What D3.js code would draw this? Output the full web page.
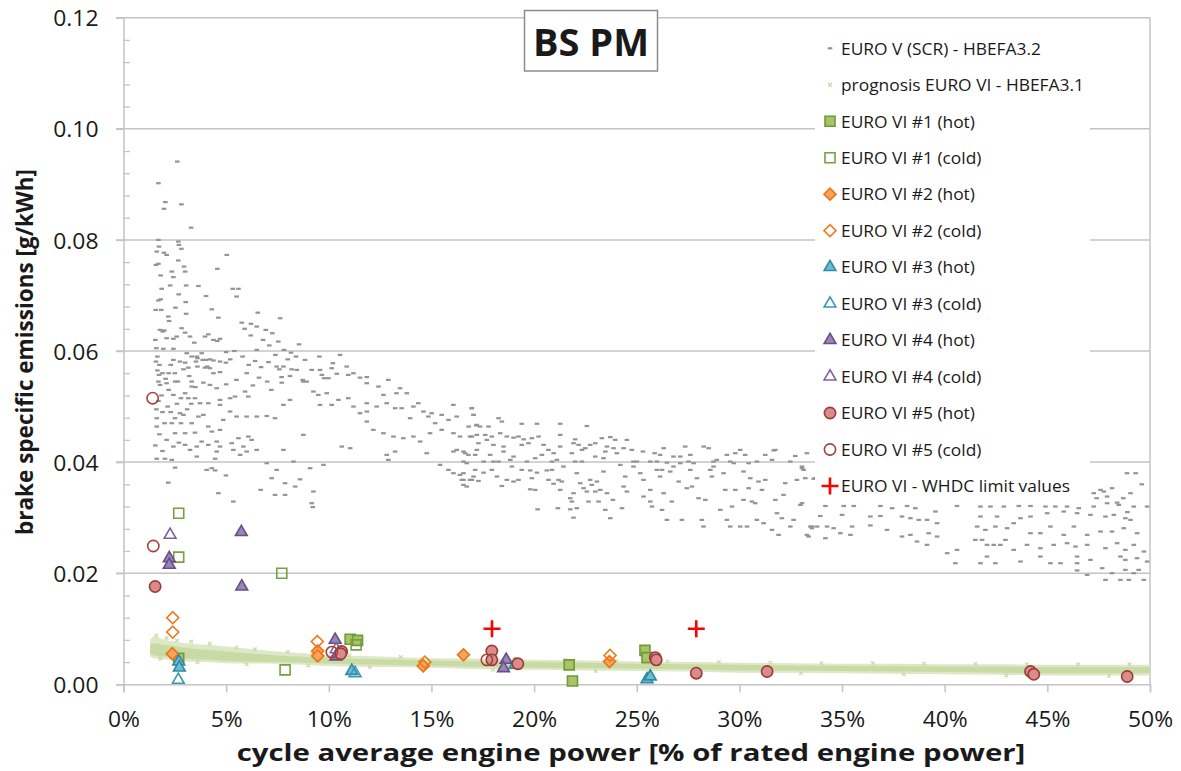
<!DOCTYPE html>
<html><head><meta charset="utf-8">
<script src="https://cdn.jsdelivr.net/npm/d3@7"></script>
<style>
body{margin:0;background:#fff}
svg{display:block}
text{font-family:'Open Sans',sans-serif;fill:#1a1a1a}
</style>
</head><body>
<svg id="chart" width="1181" height="771"></svg>
<script>
// ---------------- data ----------------
const xTicks = [0,5,10,15,20,25,30,35,40,45,50];
const yTicks = [0,0.02,0.04,0.06,0.08,0.10,0.12];
const yTickLabels = ["0.00","0.02","0.04","0.06","0.08","0.10","0.12"];

// EURO V (SCR) - HBEFA3.2 cloud  [% rated power, g/kWh]
const euro5Points = [
[2.62,.0941],[1.70,.0902],[2.04,.0868],[1.97,.0856],[2.82,.0864],[3.29,.0822],[1.70,.0800],[1.73,.0788],[1.62,.0779],[1.97,.0777],
[2.10,.0773],[2.67,.0797],[2.70,.0791],[2.82,.0784],[5.03,.0773],[1.58,.0755],[1.70,.0757],[2.67,.0763],[2.95,.0752],[3.00,.0743],
[4.57,.0748],[1.81,.0736],[2.35,.0743],[2.43,.0733],[1.86,.0712],[2.27,.0718],[3.05,.0718],[3.65,.0717],[5.32,.0712],[5.60,.0712],
[5.51,.0698],[2.69,.0702],[3.03,.0688],[4.02,.0699],[1.81,.0693],[1.70,.0691],[1.57,.0674],[1.84,.0674],[2.53,.0678],[4.30,.0675],
[2.18,.0662],[2.22,.0654],[3.05,.0667],[4.62,.0660],[6.54,.0669],[7.63,.0659],[5.76,.0651],[6.21,.0649],[6.49,.0644],[6.93,.0638],
[7.25,.0632],[1.78,.0638],[1.91,.0635],[1.99,.0637],[2.10,.0623],[2.43,.0622],[2.59,.0626],[2.83,.0641],[3.00,.0633],[3.24,.0626],
[3.45,.0615],[3.97,.0626],[4.13,.0630],[4.38,.0620],[4.57,.0618],[4.70,.0622],[7.54,.0617],[8.55,.0612],[6.49,.0602],[7.82,.0602],
[8.16,.0597],[1.58,.0581],[1.65,.0565],[1.73,.0557],[2.43,.0584],[2.75,.0581],[3.00,.0579],[3.16,.0570],[3.57,.0590],[3.81,.0596],
[4.02,.0584],[4.21,.0585],[4.38,.0583],[3.53,.0581],[3.60,.0572],[3.97,.0570],[4.21,.0569],[4.38,.0560],[4.70,.0562],[2.92,.0567],
[6.41,.0582],[7.06,.0580],[7.46,.0572],[7.59,.0567],[7.79,.0572],[8.19,.0567],[8.11,.0555],[8.44,.0566],[8.73,.0548],[8.92,.0545],
[9.17,.0566],[9.57,.0566],[9.66,.0557],[9.77,.0551],[9.98,.0551],[10.14,.0569],[10.39,.0559],[10.95,.0557],[11.52,.0552],[11.85,.0542],
[12.42,.0536],[10.55,.0593],[9.54,.0590],[8.84,.0584],[11.85,.0553],[12.90,.0548],[13.30,.0524],[10.20,.0578],[10.87,.0572],[11.20,.0560],
[9.90,.0524],[9.57,.0503],[10.14,.0503],[10.47,.0512],[10.95,.0515],[11.20,.0500],[11.52,.0488],[11.85,.0506],[11.85,.0491],[12.33,.0500],
[12.66,.0521],[12.82,.0506],[13.23,.0497],[13.47,.0533],[13.80,.0524],[13.55,.0497],[13.96,.0479],[14.12,.0500],[14.36,.0506],[14.61,.0491],
[14.85,.0482],[15.01,.0488],[15.18,.0470],[15.50,.0485],[15.83,.0476],[16.07,.0503],[16.23,.0482],[16.96,.0497],[17.05,.0485],[17.21,.0467],
[11.85,.0473],[12.17,.0458],[12.66,.0452],[13.15,.0446],[13.63,.0443],[14.12,.0446],[14.45,.0437],[14.93,.0452],[15.50,.0458],[16.07,.0452],
[16.39,.0446],[16.88,.0446],[16.07,.0419],[16.23,.0422],[16.56,.0419],[16.80,.0413],[17.21,.0422],[14.77,.0416],[15.42,.0395],[15.83,.0386],
[16.07,.0380],[16.39,.0377],[16.56,.0368],[16.88,.0368],[16.72,.0356],[17.05,.0374],[12.82,.0413],[12.90,.0404],[13.23,.0419],[11.04,.0425],
[10.63,.0428],[9.74,.0395],
[1.94,.0604],[2.43,.0604],[3.08,.0596],[3.32,.0590],[3.60,.0587],[3.86,.0584],[4.08,.0572],[4.70,.0581],[4.99,.0579],
[5.90,.0640],[6.20,.0628],[6.80,.0620],[7.10,.0610],[5.40,.0600],[5.80,.0590],[6.10,.0575],[6.70,.0571],[5.20,.0585],[5.00,.0598],
[7.40,.0593],[8.00,.0585],[8.40,.0590],[6.00,.0560],[6.60,.0552],[7.00,.0545],[7.70,.0553],[5.50,.0548],[5.00,.0540],[6.30,.0538],[7.20,.0530],
[1.55,.0620],[1.60,.0605],[1.65,.0590],[1.75,.0575],[1.90,.0560],[2.05,.0550],[2.20,.0560],[2.30,.0575],[1.85,.0520],[1.70,.0510],
[1.60,.0495],[1.90,.0490],[2.15,.0500],[2.30,.0490],[2.60,.0505],[2.80,.0515],[2.00,.0470],[1.75,.0450],[2.10,.0440],[2.70,.0435],
[1.55,.0430],[1.90,.0420],[2.80,.0470],[3.10,.0495],[3.30,.0505],[3.50,.0535],[3.20,.0555],[2.50,.0560],[2.65,.0545],[2.20,.0530],
[1.70,.0545],[1.78,.0539],[2.10,.0542],[2.51,.0545],[3.32,.0545],[3.89,.0543],[4.21,.0539],[4.54,.0533],[3.32,.0536],[2.43,.0521],
[3.00,.0524],[3.16,.0515],[3.48,.0515],[3.73,.0506],[4.13,.0506],[4.70,.0512],[4.70,.0503],[5.19,.0515],[5.43,.0518],[5.92,.0527],
[6.08,.0518],[1.62,.0479],[2.35,.0470],[2.51,.0479],[2.75,.0488],[2.92,.0485],[3.32,.0470],[3.65,.0482],[4.13,.0464],[3.89,.0485],
[4.70,.0458],[4.86,.0476],[5.19,.0491],[5.51,.0482],[6.00,.0482],[6.49,.0482],[6.98,.0483],[7.38,.0479],[1.62,.0464],[2.51,.0452],
[3.00,.0452],[3.48,.0453],[3.81,.0437],[4.30,.0455],[4.54,.0437],[4.70,.0428],[5.27,.0434],[5.60,.0443],[6.08,.0446],[6.24,.0440],
[2.43,.0428],[3.00,.0431],[3.24,.0422],[3.57,.0428],[4.13,.0431],[4.54,.0419],[5.35,.0422],[5.84,.0428],[6.00,.0419],[6.49,.0422],
[1.62,.0406],[2.02,.0406],[2.35,.0404],[3.57,.0410],[4.46,.0406],[5.68,.0413],[6.98,.0398],[7.46,.0386],[2.51,.0390],[4.05,.0386],
[4.30,.0389],[4.46,.0385],[4.99,.0376],[4.62,.0344],[5.35,.0329],[2.18,.0363],[6.68,.0350],[7.22,.0371],[7.38,.0341],[7.87,.0362],
[7.87,.0341],[8.36,.0356],[8.60,.0369],[9.25,.0347],[9.17,.0326],[9.22,.0319],[9.09,.0389],[8.28,.0401],[8.76,.0449],[7.79,.0422],
[7.79,.0503],[7.71,.0543],[8.76,.0545],[9.25,.0527],[9.49,.0521],[8.11,.0512],
[16.97,.0497],[17.05,.0485],[16.81,.0464],[17.18,.0466],[17.37,.0464],[17.78,.0464],[18.27,.0479],[18.43,.0473],[19.40,.0469],[20.14,.0469],
[21.27,.0469],[22.57,.0465],[16.97,.0446],[17.21,.0449],[17.62,.0449],[17.94,.0446],[18.35,.0452],[18.67,.0446],[19.00,.0444],[19.24,.0446],
[19.49,.0441],[19.89,.0443],[20.22,.0446],[21.27,.0449],[22.00,.0441],[23.30,.0443],[23.71,.0445],[23.95,.0440],[24.52,.0440],[17.29,.0434],
[17.70,.0440],[18.02,.0431],[18.51,.0428],[19.40,.0431],[19.73,.0434],[20.46,.0431],[20.70,.0422],[21.27,.0428],[21.92,.0434],[22.17,.0431],
[22.49,.0425],[22.73,.0431],[22.98,.0434],[23.55,.0428],[23.87,.0425],[24.36,.0425],[24.76,.0422],[25.30,.0419],[26.31,.0425],[27.36,.0428],
[28.26,.0428],[28.50,.0425],[30.04,.0422],[31.67,.0421],[33.29,.0416],[16.64,.0416],[17.13,.0413],[17.86,.0413],[18.51,.0419],[19.00,.0410],
[20.05,.0407],[20.38,.0413],[20.95,.0416],[21.84,.0416],[22.33,.0422],[22.98,.0410],[23.47,.0419],[24.03,.0416],[25.87,.0416],[26.14,.0413],
[26.79,.0410],[27.12,.0410],[27.61,.0413],[29.39,.0413],[29.80,.0416],[30.28,.0413],[31.26,.0413],[31.75,.0422],[32.72,.0411],
[16.56,.0401],[16.72,.0398],[17.54,.0401],[18.02,.0401],[18.27,.0401],[18.84,.0404],[19.65,.0401],[20.87,.0401],[21.11,.0404],[22.00,.0401],
[22.33,.0401],[23.38,.0407],[24.84,.0401],[25.01,.0401],[25.66,.0401],[25.98,.0401],[26.47,.0399],[27.12,.0398],[27.52,.0401],[27.77,.0398],
[28.74,.0401],[28.90,.0404],[29.55,.0401],[30.45,.0398],[30.85,.0401],[31.59,.0404],[32.48,.0401],[33.05,.0392],
[16.56,.0380],[16.48,.0368],[16.56,.0359],[17.13,.0386],[17.54,.0381],[16.97,.0368],[17.29,.0366],[17.94,.0386],[18.19,.0374],[18.43,.0357],
[18.67,.0368],[19.00,.0365],[19.24,.0368],[18.92,.0392],[19.40,.0386],[19.81,.0385],[20.14,.0381],[19.89,.0371],[19.81,.0351],[20.05,.0350],
[20.17,.0315],[20.62,.0385],[20.87,.0386],[20.70,.0368],[20.95,.0361],[21.19,.0368],[21.35,.0365],[21.27,.0350],[21.16,.0317],[21.43,.0392],
[21.76,.0335],[21.92,.0344],[21.84,.0329],[22.08,.0380],[22.25,.0362],[22.41,.0353],[22.57,.0347],[22.73,.0368],[22.81,.0359],[23.06,.0365],
[22.98,.0347],[23.22,.0350],[23.38,.0383],[23.55,.0344],[22.08,.0317],[21.92,.0300],[21.76,.0315],[22.65,.0329],[23.14,.0329],[23.47,.0314],
[23.71,.0299],[23.84,.0332],[24.20,.0395],[24.44,.0374],[24.36,.0356],[24.52,.0347],[24.28,.0317],[24.84,.0392],[25.17,.0380],[25.33,.0368],
[25.33,.0338],[25.66,.0350],[25.66,.0329],[25.74,.0320],[25.98,.0386],[26.14,.0374],[26.23,.0386],[26.31,.0344],[26.23,.0314],[26.47,.0296],
[26.63,.0383],[26.79,.0392],[26.71,.0329],[27.04,.0365],[27.20,.0296],[27.44,.0353],[27.61,.0386],[27.69,.0356],[27.93,.0371],[28.01,.0335],
[28.17,.0296],[28.25,.0284],[28.34,.0332],[28.58,.0386],[28.66,.0374],[28.74,.0392],[29.07,.0314],[29.23,.0380],[29.31,.0350],[29.39,.0296],
[29.55,.0284],[29.64,.0320],[29.72,.0398],[29.80,.0350],[30.04,.0284],[30.20,.0383],[30.20,.0332],[30.37,.0284],[30.45,.0353],[30.53,.0371],
[30.61,.0329],[30.77,.0326],[30.85,.0296],[30.93,.0365],[31.10,.0350],[31.18,.0290],[31.26,.0368],[31.59,.0278],[31.75,.0332],[31.83,.0308],
[31.91,.0269],[32.07,.0299],[32.15,.0341],[32.23,.0362],[32.48,.0284],[32.64,.0296],[32.80,.0368],[33.05,.0326],[33.13,.0386],[33.21,.0371],
[33.37,.0266],[33.53,.0281],[33.70,.0371],[33.78,.0284],
[33.05,.0389],[33.62,.0370],[32.97,.0323],[33.54,.0284],[33.29,.0269],
[34.19,.0321],[35.08,.0321],[35.57,.0321],[36.87,.0321],[37.44,.0317],[38.17,.0321],[38.57,.0317],[39.55,.0311],[40.60,.0321],[41.74,.0320],
[42.23,.0320],[42.88,.0320],[43.61,.0321],[44.18,.0321],[44.91,.0320],[45.39,.0320],[45.96,.0320],[46.53,.0317],[47.26,.0320],[47.91,.0326],
[48.48,.0323],[49.21,.0320],[49.86,.0320],
[33.94,.0303],[35.00,.0305],[36.38,.0302],[36.87,.0303],[37.92,.0302],[38.33,.0299],[38.74,.0296],[39.14,.0296],[39.63,.0290],[41.74,.0302],
[42.55,.0302],[43.69,.0299],[44.18,.0302],[44.99,.0308],[45.80,.0311],[46.45,.0308],[47.10,.0305],[47.83,.0302],[48.24,.0305],[48.80,.0299],
[49.05,.0296],
[33.46,.0284],[34.27,.0284],[34.59,.0281],[35.49,.0284],[36.38,.0286],[37.19,.0278],[37.92,.0266],[38.33,.0269],[39.22,.0272],[39.63,.0266],
[41.58,.0284],[41.98,.0278],[42.47,.0284],[43.04,.0281],[43.36,.0290],[44.18,.0272],[44.66,.0272],[45.15,.0284],[45.80,.0269],[46.29,.0284],
[46.94,.0269],[47.59,.0275],[48.15,.0275],[48.72,.0281],[49.37,.0272],[34.92,.0272],[35.41,.0269],
[34.19,.0263],[38.65,.0257],[39.14,.0251],[40.12,.0236],[40.60,.0242],[41.49,.0260],[41.82,.0260],[42.06,.0251],[42.39,.0251],[42.71,.0251],
[42.96,.0260],[43.36,.0242],[44.01,.0251],[44.66,.0245],[45.31,.0251],[45.96,.0254],[46.37,.0248],[46.94,.0251],[47.83,.0245],[48.40,.0254],
[48.80,.0242],[49.21,.0251],[49.70,.0239],
[40.52,.0218],[41.74,.0218],[42.47,.0218],[42.06,.0230],[43.69,.0221],[44.66,.0230],[45.15,.0218],[45.64,.0218],[46.45,.0230],[46.45,.0218],
[47.10,.0224],[48.56,.0230],[48.80,.0224],[49.37,.0227],[49.86,.0221],
[46.45,.0205],[46.94,.0197],[47.67,.0209],[47.83,.0188],[48.15,.0200],[48.56,.0188],[48.80,.0206],[48.97,.0188],[49.21,.0200],[49.45,.0206],
[49.70,.0188],
[48.88,.0380],[47.75,.0347],[48.15,.0353],[47.26,.0344],[49.05,.0344],[48.40,.0327],[47.91,.0338],[47.59,.0350],[48.70,.0335],[49.30,.0380],
[49.60,.0360],[48.90,.0310],[47.40,.0335]
];

// prognosis EURO VI - HBEFA3.1 band (envelope and dense core) and loose points
const prognosisX        = [1.3,1.5,2,3,4,5,7.5,10,12.5,15,17.5,20,22.5,25,27.5,30,32.5,35,37.5,40,42.5,45,47.5,50];
const prognosisHigh     = [.0080,.0086,.0080,.0074,.0071,.0068,.0059,.0053,.0050,.0047,.0046,.0044,.0043,.0041,.0040,.0039,.0038,.0037,.0037,.0036,.0036,.0035,.0035,.0035];
const prognosisLow      = [.0050,.0047,.0045,.0041,.0040,.0038,.0037,.0033,.0031,.0030,.0027,.0026,.0025,.0024,.0023,.0021,.0021,.0020,.0019,.0018,.0017,.0016,.0016,.0016];
const prognosisCoreHigh = [.0072,.0074,.0071,.0066,.0062,.0059,.0052,.0048,.0045,.0043,.0041,.0040,.0039,.0037,.0036,.0035,.0034,.0033,.0033,.0032,.0032,.0031,.0031,.0031];
const prognosisCoreLow  = [.0054,.0052,.0050,.0046,.0044,.0042,.0040,.0037,.0035,.0033,.0031,.0030,.0029,.0028,.0027,.0025,.0025,.0024,.0023,.0022,.0021,.0020,.0020,.0020];
const prognosisPoints = [
[1.6,.0088],[2.1,.0083],[2.6,.0079],[3.3,.0077],[4.2,.0073],[5.5,.0066],[6.4,.0063],[8.0,.0058],[9.2,.0056],[11,.0052],
[13.5,.0049],[16.5,.0047],[19,.0045],[21.5,.0044],[24,.0042],[26.5,.0041],[29,.0040],[31.5,.0039],[34,.0038],[36.5,.0038],
[39,.0037],[41.5,.0037],[44,.0036],[46.5,.0036],[49,.0036],[1.8,.0046],[3.6,.0040],[6,.0036],[9,.0034],[12,.0031],
[18,.0026],[23,.0024],[28,.0022],[33,.0020],[38,.0018],[43,.0016],[48,.0015]
];

// measured EURO VI vehicles [% rated power, g/kWh]
const vi1Hot  = [[2.69,.0047],[11.04,.0081],[11.40,.0079],[21.71,.0035],[21.87,.0006],[25.40,.0061],[25.50,.0048]];
const vi1Cold = [[2.69,.0308],[2.69,.0229],[7.71,.0200],[7.87,.0026],[11.33,.0071]];
const vi2Hot  = [[2.38,.0055],[9.46,.0060],[9.46,.0051],[14.60,.0033],[16.56,.0053],[23.67,.0041]];
const vi2Cold = [[2.40,.0120],[2.40,.0094],[9.44,.0077],[14.68,.0040],[23.70,.0052]];
const vi3Hot  = [[2.69,.0041],[2.72,.0030],[11.12,.0024],[19.07,.0035],[25.50,.0009],[25.66,.0014]];
const vi3Cold = [[2.67,.0008],[11.28,.0020]];
const vi4Hot  = [[2.23,.0227],[2.23,.0215],[5.74,.0274],[5.76,.0176],[10.31,.0080],[10.34,.0050],[18.64,.0044],[18.51,.0029]];
const vi4Cold = [[2.27,.0269],[10.36,.0063]];
const vi5Hot  = [[1.54,.0176],[10.63,.0059],[10.58,.0055],[17.94,.0060],[17.94,.0044],[19.21,.0037],[25.90,.0048],[25.95,.0044],[27.90,.0020],[31.35,.0023],[44.18,.0023],[44.34,.0018],[48.89,.0014]];
const vi5Cold = [[1.42,.0515],[1.45,.0249],[10.15,.0058],[17.70,.0044]];
const whdcLimit = [[17.95,.0100],[27.90,.0100]];

const legendLabels = ["EURO V (SCR) - HBEFA3.2","prognosis EURO VI - HBEFA3.1","EURO VI #1 (hot)","EURO VI #1 (cold)",
  "EURO VI #2 (hot)","EURO VI #2 (cold)","EURO VI #3 (hot)","EURO VI #3 (cold)","EURO VI #4 (hot)","EURO VI #4 (cold)",
  "EURO VI #5 (hot)","EURO VI #5 (cold)","EURO VI - WHDC limit values"];

// ---------------- chart ----------------
const svg = d3.select("#chart");
const L = 123.5, R = 1150, T = 17.7, B = 684.3;
const x = d3.scaleLinear().domain([0,50]).range([L,R]);
const y = d3.scaleLinear().domain([0,0.12]).range([B,T]);
const gridC = "#c4c4c4";

// gridlines
svg.append("g").selectAll("line").data(yTicks.filter(d=>d>0)).join("line")
  .attr("x1",116).attr("x2",R).attr("y1",d=>y(d)).attr("y2",d=>y(d))
  .attr("stroke",gridC).attr("stroke-width",1.5);
// right frame
svg.append("line").attr("x1",R).attr("x2",R).attr("y1",T).attr("y2",B).attr("stroke",gridC).attr("stroke-width",1.5);

// y axis
const yAxis = svg.append("g").attr("transform",`translate(${L},0)`)
  .call(d3.axisLeft(y).tickValues(yTicks).tickSize(7.5).tickPadding(10).tickFormat((d,i)=>yTickLabels[i]));
yAxis.select(".domain").attr("stroke",gridC).attr("stroke-width",1.5);
yAxis.selectAll(".tick line").attr("stroke",gridC).attr("stroke-width",1.5);
yAxis.selectAll(".tick text").attr("font-size",21).attr("font-family","'Open Sans',sans-serif").attr("fill","#1a1a1a")
  .attr("x",null).attr("dy",null).attr("text-anchor","end").attr("dominant-baseline","central")
  .attr("transform","translate(-25,0) scale(1.09,1)");
// minor ticks
const minor = d3.range(0,0.1201,0.004).filter(v=>Math.abs(v/0.02-Math.round(v/0.02))>1e-6);
const yMinor = svg.append("g").attr("transform",`translate(${L},0)`)
  .call(d3.axisRight(y).tickValues(minor).tickSize(6.5).tickFormat(""));
yMinor.select(".domain").remove();
yMinor.selectAll(".tick line").attr("stroke",gridC).attr("stroke-width",1.3);

// x axis
const xAxis = svg.append("g").attr("transform",`translate(0,${B})`)
  .call(d3.axisBottom(x).tickValues(xTicks).tickSize(8).tickFormat(d=>d+"%"));
xAxis.select(".domain").attr("stroke",gridC).attr("stroke-width",1.5);
xAxis.selectAll(".tick line").attr("stroke",gridC).attr("stroke-width",1.5);
xAxis.selectAll(".tick text").attr("font-size",21).attr("font-family","'Open Sans',sans-serif").attr("fill","#1a1a1a")
  .attr("y",null).attr("dy",null).attr("transform","translate(0,42.5) scale(1.09,1)");

// EURO V cloud
svg.append("g").selectAll("rect").data(euro5Points).join("rect")
  .attr("x",d=>x(d[0])-2.3).attr("y",d=>y(d[1])-1.1).attr("width",4.6).attr("height",2.2)
  .attr("fill","#949494");

// prognosis band
const band = prognosisX.map((v,i)=>({x:v,lo:prognosisLow[i],hi:prognosisHigh[i],clo:prognosisCoreLow[i],chi:prognosisCoreHigh[i]}));
svg.append("path").datum(band)
  .attr("d",d3.area().x(d=>x(d.x)).y0(d=>y(d.lo)).y1(d=>y(d.hi)).curve(d3.curveMonotoneX))
  .attr("fill","#dde8c6");
svg.append("path").datum(band)
  .attr("d",d3.area().x(d=>x(d.x)).y0(d=>y(d.clo)).y1(d=>y(d.chi)).curve(d3.curveMonotoneX))
  .attr("fill","#c9dba4");
svg.append("g").selectAll("path").data(prognosisPoints).join("path")
  .attr("transform",d=>`translate(${x(d[0])},${y(d[1])})`)
  .attr("d","M-1.8,-1.8L1.8,1.8M-1.8,1.8L1.8,-1.8").attr("stroke","#c9dba6").attr("stroke-width",1.2);

// marker definitions
const sq = d3.symbol().type(d3.symbolSquare).size(100)();
const dia = d3.symbol().type(d3.symbolSquare).size(72)();
const tri = d3.symbol().type(d3.symbolTriangle).size(60)();
const cir = d3.symbol().type(d3.symbolCircle).size(100)();
const plus = "M-8.5,0H8.5M0,-8.5V8.5";
const series = [
  {data:vi1Hot, path:sq, fill:"#a7c46a", stroke:"#6f9a35", rot:0},
  {data:vi1Cold,path:sq, fill:"none",    stroke:"#77a041", rot:0},
  {data:vi2Hot, path:dia,fill:"#f9a35c", stroke:"#ea7417", rot:45},
  {data:vi2Cold,path:dia,fill:"none",    stroke:"#ee7a1c", rot:45},
  {data:vi3Hot, path:tri,fill:"#6dbcd1", stroke:"#2f8aa3", rot:0},
  {data:vi3Cold,path:tri,fill:"none",    stroke:"#3a98b4", rot:0},
  {data:vi4Hot, path:tri,fill:"#9a85ba", stroke:"#664f86", rot:0},
  {data:vi4Cold,path:tri,fill:"none",    stroke:"#7d62a0", rot:0},
  {data:vi5Hot, path:cir,fill:"#d98c8a", stroke:"#9b3a38", rot:0},
  {data:vi5Cold,path:cir,fill:"none",    stroke:"#a5403d", rot:0},
  {data:whdcLimit,path:plus,fill:"none", stroke:"#ff0000", rot:0, sw:2.6}
];
series.forEach(s=>{
  svg.append("g").selectAll("path").data(s.data).join("path")
    .attr("transform",d=>`translate(${x(d[0])},${y(d[1])}) rotate(${s.rot})`)
    .attr("d",s.path).attr("fill",s.fill).attr("stroke",s.stroke).attr("stroke-width",s.sw||1.6);
});

// legend
const lg = svg.append("g");
lg.append("rect").attr("x",815).attr("y",25).attr("width",275).attr("height",477).attr("fill","#fff");
const rowY = i => 48.3 + i*36.47;
const mx = 830;
lg.append("rect").attr("x",mx-2.3).attr("y",rowY(0)-1.1).attr("width",4.6).attr("height",2.2).attr("fill","#949494");
lg.append("path").attr("transform",`translate(${mx},${rowY(1)})`)
  .attr("d","M-2,-2L2,2M-2,2L2,-2").attr("stroke","#c9dba6").attr("stroke-width",1.2);
series.forEach((s,i)=>{
  lg.append("path").attr("transform",`translate(${mx},${rowY(i+2)}) rotate(${s.rot})`)
    .attr("d",s.path).attr("fill",s.fill).attr("stroke",s.stroke).attr("stroke-width",s.sw||1.6);
});
legendLabels.forEach((t,i)=>{
  lg.append("text").attr("transform",`translate(841,${rowY(i)}) scale(1.06,1)`)
    .attr("dominant-baseline","central").attr("font-size",16.4).text(t);
});

// title box
svg.append("rect").attr("x",524.5).attr("y",10.5).attr("width",133).attr("height",60.5)
  .attr("fill","#fff").attr("stroke","#8c8c8c").attr("stroke-width",1.5);
svg.append("text").attr("x",591).attr("y",56).attr("text-anchor","middle")
  .attr("font-size",38).attr("font-weight",700).text("BS PM");

// axis titles
svg.append("text").attr("transform","translate(631,752) scale(1.277,1)").attr("text-anchor","middle")
  .attr("dominant-baseline","central").attr("font-size",23).attr("font-weight",700)
  .text("cycle average engine power [% of rated engine power]");
svg.append("text").attr("transform","translate(24,352) rotate(-90)").attr("text-anchor","middle")
  .attr("dominant-baseline","central").attr("font-size",22.5).attr("font-weight",700)
  .text("brake specific emissions [g/kWh]");
</script>
</body></html>
